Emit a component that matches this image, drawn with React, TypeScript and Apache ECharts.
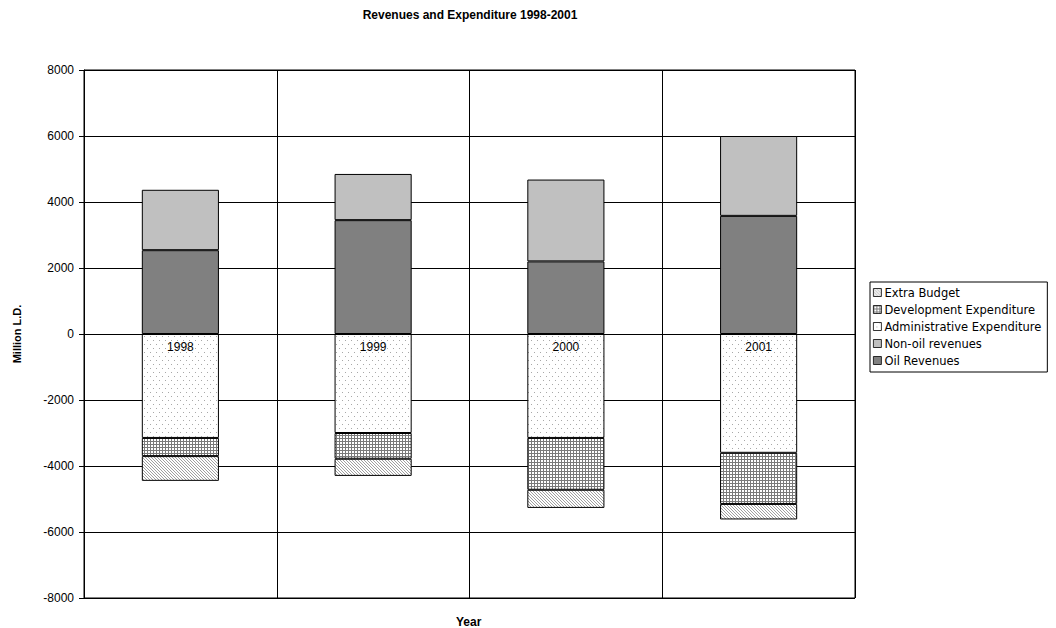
import React, { useEffect, useRef } from "react";
import * as echarts from "echarts";

const years = ["1998", "1999", "2000", "2001"];
const oilRevenues = [2540, 3450, 2200, 3580];
const nonOilRevenues = [1830, 1400, 2480, 2420];
const adminExpenditure = [-3150, -3000, -3150, -3600];
const devExpenditure = [-550, -780, -1570, -1550];
const extraBudget = [-750, -520, -550, -470];
const legendOrder = [
  "Extra Budget",
  "Development Expenditure",
  "Administrative Expenditure",
  "Non-oil revenues",
  "Oil Revenues",
];

const FONT = "Arial, 'Liberation Sans', sans-serif";
const WIDE = "'DejaVu Sans', sans-serif";

function makeTile(w: number, h: number, draw: (ctx: CanvasRenderingContext2D) => void) {
  const c = document.createElement("canvas");
  c.width = w;
  c.height = h;
  const ctx = c.getContext("2d")!;
  ctx.fillStyle = "#ffffff";
  ctx.fillRect(0, 0, w, h);
  draw(ctx);
  return { image: c, repeat: "repeat", imageWidth: w, imageHeight: h } as any;
}

export default function App() {
  const ref = useRef<HTMLDivElement>(null);
  useEffect(() => {
    if (!ref.current) return;
    const chart = echarts.init(ref.current, undefined, { renderer: "svg" });

    const dots = makeTile(6, 8, (ctx) => {
      ctx.fillStyle = "#a8a8a8";
      ctx.fillRect(0, 0, 1, 1);
      ctx.fillRect(3, 4, 1, 1);
    });
    const grid = makeTile(3, 3, (ctx) => {
      ctx.fillStyle = "#7a7a7a";
      ctx.fillRect(0, 0, 3, 1);
      ctx.fillRect(0, 0, 1, 3);
    });
    const hatch = makeTile(3, 3, (ctx) => {
      ctx.fillStyle = "#a0a0a0";
      for (let i = 0; i < 3; i++) ctx.fillRect(i, i, 1, 1);
    });

    const border = { borderColor: "#000", borderWidth: 1 };
    const mk = (name: string, data: number[], color: any, extra: any = {}) => ({
      name,
      type: "bar",
      stack: "total",
      data,
      barCategoryGap: "60%",
      itemStyle: { color, ...border },
      emphasis: { disabled: true },
      ...extra,
    });

    chart.setOption({
      animation: false,
      backgroundColor: "#fff",
      textStyle: { fontFamily: FONT },
      title: {
        text: "Revenues and Expenditure 1998-2001",
        left: 465,
        textAlign: "center",
        top: 4,
        textStyle: { fontSize: 12, fontWeight: "bold", color: "#000", fontFamily: FONT },
      },
      grid: {
        left: 84,
        right: 201,
        top: 70,
        bottom: 30,
        show: true,
        borderColor: "#000",
        borderWidth: 1,
        backgroundColor: "#fff",
      },
      legend: {
        orient: "vertical",
        left: 870,
        top: 282,
        data: legendOrder,
        icon: "rect",
        itemWidth: 8,
        itemHeight: 8,
        itemGap: 4,
        padding: [4, 6, 5, 3],
        borderColor: "#000",
        borderWidth: 1,
        backgroundColor: "#fff",
        itemStyle: { borderWidth: 0.8 },
        textStyle: {
          fontSize: 11.5,
          color: "#000",
          fontFamily: WIDE,
          padding: [0, 0, 0, -2],
          lineHeight: 13,
        },
        selectedMode: false,
      },
      xAxis: {
        type: "category",
        data: years,
        z: 10,
        axisLine: { onZero: true, lineStyle: { color: "#000", width: 1 } },
        axisTick: { show: true, length: 4, lineStyle: { color: "#000" } },
        axisLabel: { show: false },
        splitLine: { show: true, lineStyle: { color: "#000", width: 1 } },
      },
      yAxis: {
        type: "value",
        min: -8000,
        max: 8000,
        interval: 2000,
        name: "Million L.D.",
        nameLocation: "middle",
        nameGap: 62,
        nameRotate: 90,
        nameTextStyle: { fontSize: 11, fontWeight: "bold", color: "#000", fontFamily: FONT },
        axisLine: { show: true, lineStyle: { color: "#000", width: 1 } },
        axisTick: { show: true, length: 5, lineStyle: { color: "#000" } },
        axisLabel: {
          fontSize: 12,
          color: "#000",
          margin: 10,
          fontFamily: FONT,
          formatter: (v: number) => String(v),
        },
        splitLine: { show: true, lineStyle: { color: "#000", width: 1 } },
      },
      graphic: [
        {
          type: "text",
          left: 470 - 14,
          top: 616,
          style: { text: "Year", fontSize: 12, fontWeight: "bold", fill: "#000", fontFamily: FONT },
        },
      ],
      series: [
        mk("Oil Revenues", oilRevenues, "#808080"),
        mk("Non-oil revenues", nonOilRevenues, "#c0c0c0"),
        mk("Administrative Expenditure", adminExpenditure, dots, {
          label: {
            show: true,
            position: "insideTop",
            distance: 7,
            formatter: "{b}",
            fontSize: 12,
            color: "#000",
            fontFamily: FONT,
          },
        }),
        mk("Development Expenditure", devExpenditure, grid),
        mk("Extra Budget", extraBudget, hatch),
      ],
    });
    return () => chart.dispose();
  }, []);
  return <div ref={ref} style={{ width: 1056, height: 628, position: "absolute", left: 0, top: 0 }} />;
}
